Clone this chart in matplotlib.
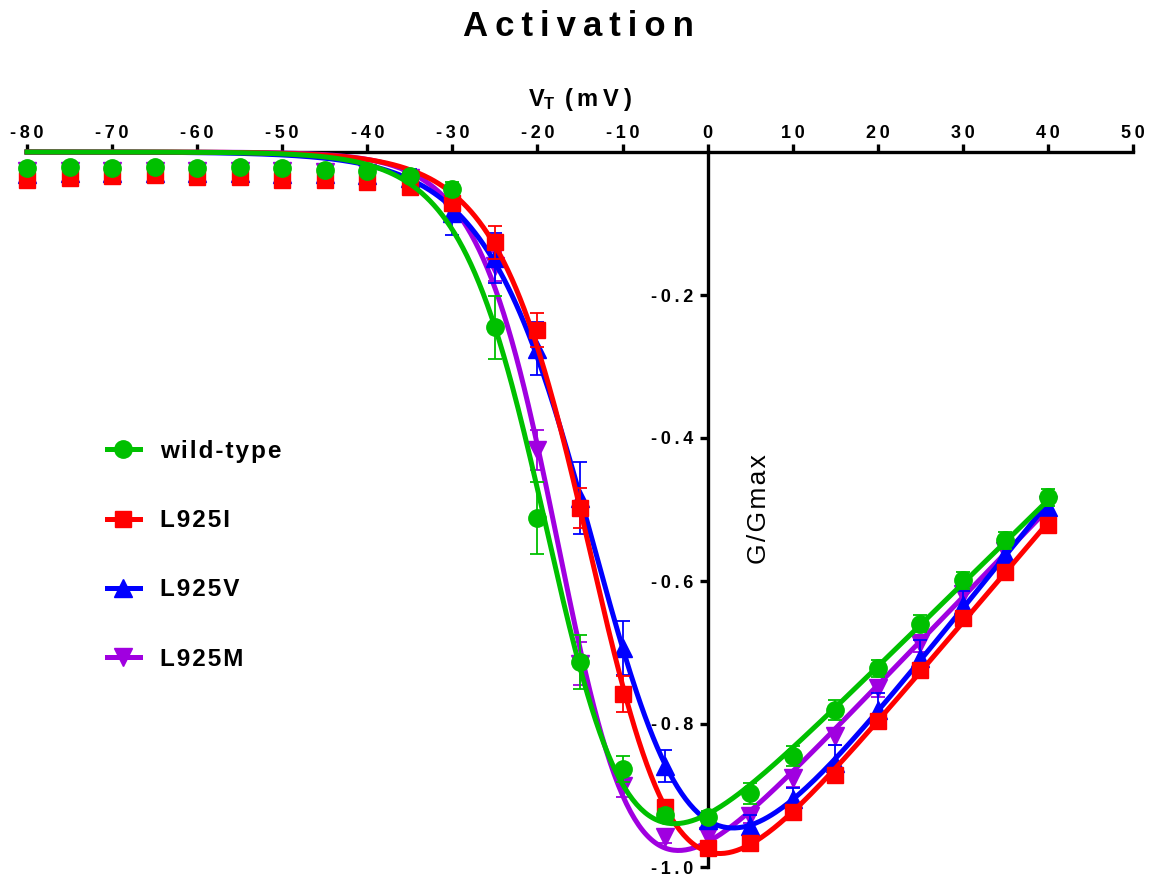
import numpy as np
import matplotlib
matplotlib.use("Agg")
import matplotlib.pyplot as plt
from matplotlib.ticker import FixedLocator, FuncFormatter

plt.rcParams['font.family'] = ['Liberation Sans', 'DejaVu Sans']
plt.rcParams['mathtext.default'] = 'regular'

# ── data ─────────────────────────────────────────────────────────────────────
voltage = [-80, -75, -70, -65, -60, -55, -50, -45, -40, -35, -30, -25, -20,
           -15, -10, -5, 0, 5, 10, 15, 20, 25, 30, 35, 40]

wt = [-0.022, -0.021, -0.022, -0.021, -0.022, -0.021, -0.022, -0.025, -0.027,
      -0.033, -0.052, -0.245, -0.512, -0.713, -0.863, -0.927, -0.930, -0.897,
      -0.845, -0.781, -0.722, -0.660, -0.599, -0.543, -0.483]
wt_err = [0.004, 0.004, 0.004, 0.004, 0.004, 0.004, 0.004, 0.004, 0.005,
          0.006, 0.010, 0.044, 0.050, 0.038, 0.018, 0.008, 0.008, 0.015,
          0.014, 0.014, 0.012, 0.012, 0.012, 0.012, 0.012]

l925i = [-0.039, -0.036, -0.034, -0.032, -0.035, -0.035, -0.039, -0.039, -0.042,
         -0.049, -0.072, -0.126, -0.249, -0.498, -0.758, -0.916, -0.973, -0.966,
         -0.923, -0.871, -0.796, -0.725, -0.652, -0.587, -0.522]
l925i_err = [0.004, 0.004, 0.004, 0.004, 0.004, 0.004, 0.004, 0.004, 0.005,
             0.006, 0.010, 0.023, 0.024, 0.028, 0.025, 0.010, 0.008, 0.008,
             0.010, 0.010, 0.010, 0.010, 0.010, 0.010, 0.010]

l925v = [-0.031, -0.030, -0.030, -0.029, -0.030, -0.030, -0.031, -0.031, -0.032,
         -0.036, -0.086, -0.148, -0.275, -0.484, -0.694, -0.859, -0.934, -0.942,
         -0.905, -0.854, -0.780, -0.708, -0.634, -0.562, -0.497]
l925v_err = [0.004, 0.004, 0.004, 0.004, 0.004, 0.004, 0.004, 0.004, 0.005,
             0.012, 0.030, 0.035, 0.037, 0.050, 0.038, 0.022, 0.010, 0.015,
             0.015, 0.024, 0.024, 0.025, 0.020, 0.015, 0.012]

l925m = [-0.027, -0.027, -0.027, -0.027, -0.027, -0.027, -0.027, -0.028, -0.030,
         -0.037, -0.082, -0.160, -0.417, -0.716, -0.887, -0.958, -0.957, -0.929,
         -0.876, -0.817, -0.750, -0.687, -0.618, -0.558, -0.494]
l925m_err = [0.004, 0.004, 0.004, 0.004, 0.004, 0.004, 0.004, 0.004, 0.005,
             0.006, 0.012, 0.020, 0.028, 0.030, 0.015, 0.008, 0.008, 0.010,
             0.012, 0.012, 0.012, 0.012, 0.012, 0.012, 0.012]

labels = ["wild-type", "L925I", "L925V", "L925M"]
colors = ["#00C000", "#FF0000", "#0000FF", "#A000E0"]
markers = ["o", "s", "^", "v"]
msizes = [12.5, 11.5, 13, 13]

x_ticks = [-80, -70, -60, -50, -40, -30, -20, -10, 0, 10, 20, 30, 40, 50]
y_ticks = [-0.2, -0.4, -0.6, -0.8, -1.0]


def spaced(s, sp="\u2009"):
    return sp.join(s)


def fit_iv(v, y):
    # Boltzmann-activated ohmic I-V: y = G (V - Erev) / (1 + exp((Vh - V)/k))
    v = np.asarray(v, float)
    y = np.asarray(y, float)
    vh = np.arange(-35, 0, 0.1)
    k = np.arange(2, 12, 0.05)
    VH, K = np.meshgrid(vh, k, indexing="ij")
    B = 1.0 / (1.0 + np.exp((VH[..., None] - v) / K[..., None]))
    a = v * B
    saa = (a * a).sum(-1); sab = (a * B).sum(-1); sbb = (B * B).sum(-1)
    say = (a * y).sum(-1); sby = (B * y).sum(-1)
    det = saa * sbb - sab ** 2
    p = (say * sbb - sby * sab) / det
    q = (sby * saa - say * sab) / det
    res = ((p[..., None] * a + q[..., None] * B - y) ** 2).sum(-1)
    i, j = np.unravel_index(np.argmin(res), res.shape)
    return vh[i], k[j], p[i, j], q[i, j]


fig = plt.figure(figsize=(11.51, 8.77), dpi=100)
ax = fig.add_axes([27 / 1151, 10 / 877, 1106 / 1151, 715 / 877])
ax.set_xlim(-80, 50)
ax.set_ylim(-1.0, 0)

series = [(wt, wt_err), (l925i, l925i_err), (l925v, l925v_err), (l925m, l925m_err)]
vv = np.linspace(-80, 40, 500)
handles = []
for n, ((y, e), lab, c, m, ms) in enumerate(zip(series, labels, colors, markers, msizes)):
    z = 10 - n
    vh, k, p, q = fit_iv(voltage, y)
    b = 1.0 / (1.0 + np.exp((vh - vv) / k))
    ax.plot(vv, (p * vv + q) * b, color=c, lw=3.6, zorder=z, clip_on=False)
    ax.errorbar(voltage, y, yerr=e, fmt="none", ecolor=c, elinewidth=1.3,
                capsize=5, capthick=1.3, zorder=z, clip_on=False)
    ax.plot(voltage, y, ls="none", marker=m, ms=ms, color=c, mec=c,
            zorder=z + 0.5, clip_on=False)
    h, = ax.plot([], [], color=c, lw=3.6, marker=m, ms=ms, label=spaced(lab, "\u200a"))
    handles.append(h)

# ── axes crossing at origin ─────────────────────────────────────────────────
for s in ["bottom", "right"]:
    ax.spines[s].set_visible(False)
ax.spines["top"].set_linewidth(2.4)
ax.spines["left"].set_linewidth(2.4)
ax.spines["left"].set_position(("data", 0))
ax.spines["top"].set_zorder(5)
ax.spines["left"].set_zorder(5)

ax.xaxis.set_ticks_position("top")
ax.xaxis.set_label_position("top")
ax.xaxis.set_major_locator(FixedLocator(x_ticks))
ax.xaxis.set_major_formatter(FuncFormatter(lambda v, p: spaced(f"{v:g}")))
ax.yaxis.set_ticks_position("left")
ax.yaxis.set_major_locator(FixedLocator(y_ticks))
ax.yaxis.set_major_formatter(FuncFormatter(lambda v, p: spaced(f"{v:.1f}")))
ax.tick_params(axis="both", which="major", length=6, width=2.4, direction="out",
               labelsize=13)
ax.tick_params(axis="x", pad=1)
ax.tick_params(axis="y", pad=4)
for t in ax.get_xticklabels() + ax.get_yticklabels():
    t.set_fontweight("bold")

ax.set_xlabel(spaced("V") + "$_{\\mathregular{T}}$" + "\u2009\u2009" + spaced("(mV)"),
              fontsize=17, fontweight="bold", labelpad=14)
ax.set_ylabel(spaced("G/Gmax", "\u200a"), fontsize=19)
ax.yaxis.set_label_coords(0.673, 0.5)

fig.text(578 / 1151, 1 - 26 / 877, spaced("Activation"), ha="center", va="center",
         fontsize=25, fontweight="bold")

leg = ax.legend(handles=handles, loc="upper left",
                bbox_to_anchor=(107 / 1151, 1 - 440 / 877),
                bbox_transform=fig.transFigure, frameon=False,
                borderpad=0, borderaxespad=0, handlelength=1.35,
                handletextpad=0.85, labelspacing=1.9,
                prop={"size": 17.5, "weight": "bold"})

fig.savefig("out.png", dpi=100)
